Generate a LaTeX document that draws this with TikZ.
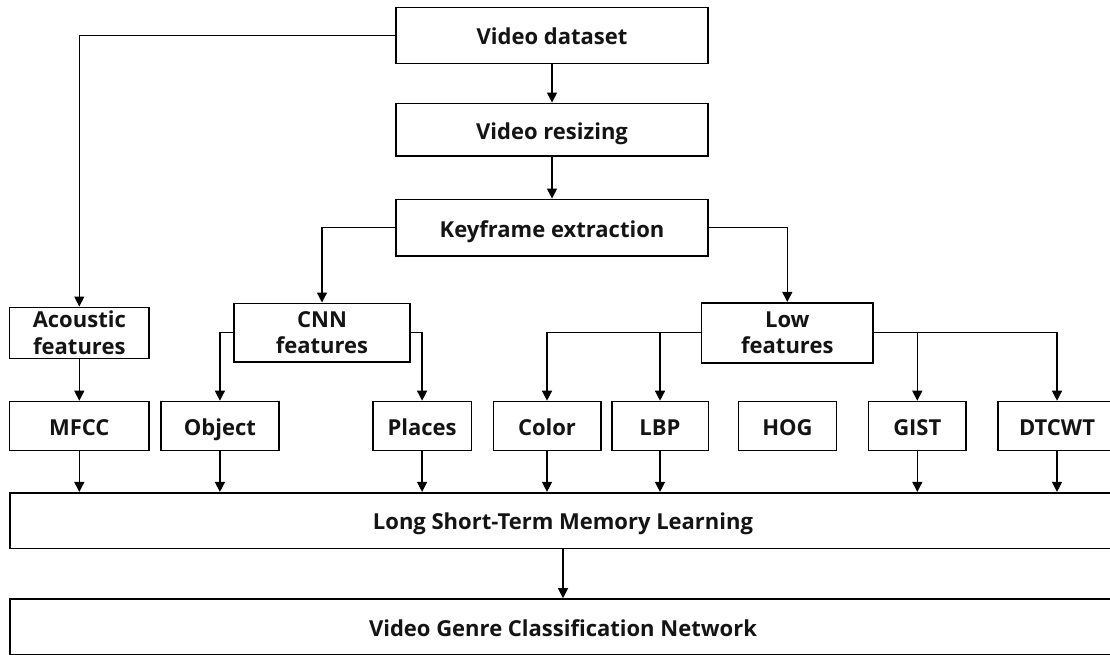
\documentclass[tikz,border=0pt]{standalone}
\usepackage{fontspec}
\setmainfont{Open Sans}
\usetikzlibrary{arrows.meta}
\begin{document}
\begin{tikzpicture}[x=1pt,y=-1pt,
  box/.style={draw=black, line width=1.6pt, inner sep=0pt,
    font=\fontsize{22}{26.5}\selectfont\bfseries, text=black!92},
  one/.style={text height=18.7pt, text depth=0pt},
  two/.style={align=center},
  link/.style={draw=black, line width=1.3pt, -{Triangle[length=10pt,width=10pt]}}]
\useasboundingbox (0,0) rectangle (1110,654);
\fill[white] (0,0) rectangle (1110,654);

% processing chain
\node[box, one, minimum width=311.5, minimum height=56]   (vd)  at (552,35.3)  {Video dataset};
\node[box, one, minimum width=311.5, minimum height=52.7] (vr)  at (552,129.7) {Video resizing};
\node[box, one, minimum width=311.5, minimum height=56.7] (kf)  at (552,227.7) {Keyframe extraction};

% feature groups
\node[box, two, minimum width=139.4, minimum height=51]   (ac)  at (79.3,332.8) {Acoustic\\features};
\node[box, two, minimum width=176,   minimum height=58.4] (cnn) at (322,332.5)  {CNN\\features};
\node[box, two, minimum width=171.8, minimum height=60]   (low) at (787.3,332.7) {Low\\features};

% individual features
\node[box, one, minimum width=139.4, minimum height=49] (mfcc) at (79.3,426)  {MFCC};
\node[box, one, minimum width=118.3, minimum height=49] (obj)  at (219.9,426) {Object};
\node[box, one, minimum width=98.5,  minimum height=49] (pla)  at (422.1,426) {Places};
\node[box, one, minimum width=107.4, minimum height=49] (col)  at (547,426)   {Color};
\node[box, one, minimum width=96.6,  minimum height=49] (lbp)  at (660,426)   {LBP};
\node[box, one, minimum width=97.8,  minimum height=49] (hog)  at (787.5,426) {HOG};
\node[box, one, minimum width=97.5,  minimum height=49] (gist) at (917.3,426) {GIST};
\node[box, one, minimum width=118,   minimum height=49] (dtc)  at (1057,426)  {DTCWT};

% learning stages
\node[box, one, minimum width=1106, minimum height=55.6] (lstm) at (563,520.5) {Long Short-Term Memory Learning};
\node[box, one, minimum width=1106, minimum height=56]   (vgc)  at (563,627)   {Video Genre Classification Network};

% connectors
\draw[link] (vd) -- (vr);
\draw[link] (vr) -- (kf);
\draw[link] (vd.west) -| (ac.north);
\draw[link] (kf.west) -| (cnn.north);
\draw[link] (kf.east) -| (low.north);
\draw[link] (ac) -- (mfcc);
\draw[link] (cnn.west) -| (obj.north);
\draw[link] (cnn.east) -| (pla.north);
\draw[link] (low.west) -| (col.north);
\draw[link] (low.west) -| (lbp.north);
\draw[link] (low.east) -| (gist.north);
\draw[link] (low.east) -| (dtc.north);
\foreach \n in {mfcc,obj,pla,col,lbp,gist,dtc}
  \draw[link] (\n.south) -- (\n.south |- lstm.north);
\draw[link] (lstm.south -| vgc.north) -- (vgc.north);
\end{tikzpicture}
\end{document}
